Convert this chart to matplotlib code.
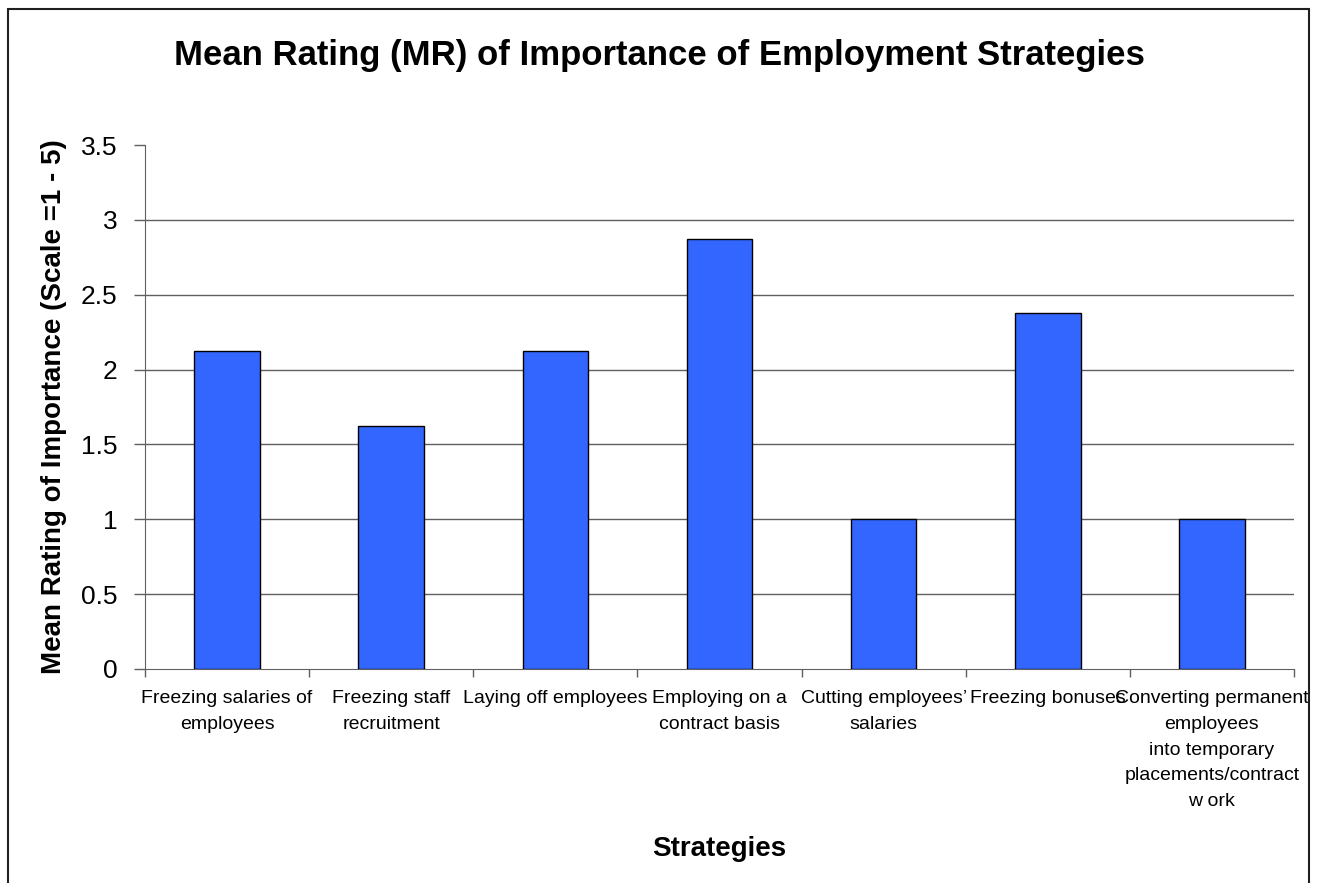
import numpy as np
import matplotlib
matplotlib.use("Agg")
import matplotlib.pyplot as plt
from matplotlib.patches import Rectangle

plt.rcParams['font.family'] = ['Liberation Sans', 'DejaVu Sans']

# data
strategies = ["Freezing salaries of\nemployees",
              "Freezing staff\nrecruitment",
              "Laying off employees",
              "Employing on a\ncontract basis",
              "Cutting employees’\nsalaries",
              "Freezing bonuses",
              "Converting permanent\nemployees\ninto temporary\nplacements/contract\nw ork"]
mean_rating = [2.125, 1.625, 2.125, 2.875, 1.0, 2.375, 1.0]
yticks = [0, 0.5, 1, 1.5, 2, 2.5, 3, 3.5]
ytick_labels = ["0", "0.5", "1", "1.5", "2", "2.5", "3", "3.5"]

W, H = 1319, 883
fig = plt.figure(figsize=(W / 100, H / 100), dpi=100)
ax = fig.add_axes([145 / W, 1 - 669 / H, (1294 - 145) / W, (669 - 145) / H])

x = np.arange(len(strategies))
ax.bar(x, mean_rating, width=0.4, color="#3366FF", edgecolor="black", linewidth=1, zorder=3)

ax.set_xlim(-0.5, len(strategies) - 0.5)
ax.set_ylim(0, 3.5)
ax.set_yticks(yticks)
ax.set_yticklabels(ytick_labels, fontsize=19)
ax.tick_params(axis="y", direction="out", length=8, width=1, color="#606060", pad=12)

# gridlines (none at the top)
for g in yticks[1:-1]:
    ax.axhline(g, color="#606060", linewidth=1, zorder=1)

# ticks between categories, labels at centres
ax.set_xticks(np.arange(-0.5, len(strategies), 1.0))
ax.set_xticklabels([])
ax.tick_params(axis="x", which="major", direction="out", length=6, width=1, color="#606060")
ax.set_xticks(x, minor=True)
ax.set_xticklabels(strategies, minor=True, fontsize=14, linespacing=1.68)
ax.tick_params(axis="x", which="minor", length=0, pad=15)

for s in ["top", "right"]:
    ax.spines[s].set_visible(False)
ax.spines["left"].set_color("#606060")
ax.spines["bottom"].set_color("#606060")

fig.text(659.5 / W, 1 - 65 / H, "Mean Rating (MR) of Importance of Employment Strategies",
         ha="center", va="baseline", fontsize=25, fontweight="bold")
fig.text(719.5 / W, 1 - 856 / H, "Strategies", ha="center", va="baseline",
         fontsize=20, fontweight="bold")
fig.text(54 / W, 1 - 407 / H, "Mean Rating of Importance (Scale =1 - 5)", ha="center",
         va="center", rotation=90, fontsize=20, fontweight="bold")

# outer chart border
fig.patches.append(Rectangle((7.5 / W, -0.05), (1309 - 7.5) / W, 1 - 9 / H + 0.05,
                             transform=fig.transFigure, fill=False, edgecolor="#202020",
                             linewidth=1.5))

fig.savefig("out.png", dpi=100)
